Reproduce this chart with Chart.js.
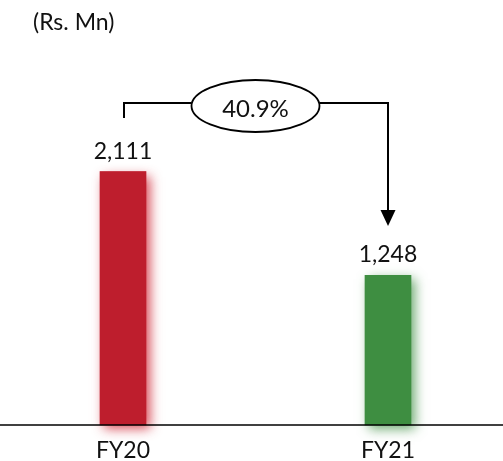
<!DOCTYPE html>
<html>
<head>
<meta charset="utf-8">
<script src="https://cdn.jsdelivr.net/npm/chart.js@4/dist/chart.umd.min.js"></script>
<style>
  html, body { margin: 0; padding: 0; background: #fff; }
  #wrap { position: relative; width: 503px; height: 461px; }
</style>
</head>
<body>
<div id="wrap"><canvas id="c"></canvas></div>
<script>
// Revenue by fiscal year (Rs. Mn)
const categories = ['FY20', 'FY21'];
const values = [2111, 1248];
const valueLabels = ['2,111', '1,248'];
const barColors = ['#BE1E2D', '#3E8E41'];
const glowColors = ['rgba(205,30,45,0.8)', 'rgba(62,142,65,0.75)'];
const unitLabel = '(Rs. Mn)';
const changeLabel = '40.9%';

const FONT = 'Lato, "Open Sans", sans-serif';

// Soft coloured glow behind each bar
const barGlow = {
  id: 'barGlow',
  beforeDatasetDraw(chart, args) {
    const ctx = chart.ctx;
    const meta = args.meta;
    meta.data.forEach((bar, i) => {
      ctx.save();
      ctx.shadowColor = glowColors[i];
      ctx.shadowBlur = 11;
      ctx.shadowOffsetX = 4;
      ctx.shadowOffsetY = 4;
      ctx.fillStyle = barColors[i];
      const w = bar.width;
      ctx.fillRect(bar.x - w / 2, bar.y, w, bar.base - bar.y);
      ctx.restore();
    });
  }
};

// Baseline, value labels, unit caption and the change bracket
const annotations = {
  id: 'annotations',
  afterDatasetsDraw(chart) {
    const ctx = chart.ctx;
    const x = chart.scales.x;
    const y = chart.scales.y;
    const meta = chart.getDatasetMeta(0);

    ctx.save();
    // baseline across the full width
    ctx.strokeStyle = '#000';
    ctx.lineWidth = 1.5;
    ctx.beginPath();
    ctx.moveTo(0, y.getPixelForValue(0));
    ctx.lineTo(chart.width, y.getPixelForValue(0));
    ctx.stroke();

    // value labels above bars
    ctx.fillStyle = '#111';
    ctx.font = '23px ' + FONT;
    ctx.textAlign = 'center';
    ctx.textBaseline = 'alphabetic';
    meta.data.forEach((bar, i) => {
      ctx.fillText(valueLabels[i], bar.x, bar.y - 13);
    });

    // unit caption
    ctx.font = '23px ' + FONT;
    ctx.textAlign = 'left';
    ctx.fillText(unitLabel, 33, 30);

    // change bracket with arrow
    const x0 = x.getPixelForValue(0) + 1;
    const x1 = x.getPixelForValue(1);
    const lineY = 103;
    const ex = (x0 + x1) / 2 - 0.5, ey = 106, rx = 64, ry = 26;
    ctx.strokeStyle = '#000';
    ctx.lineWidth = 2;
    ctx.beginPath();
    ctx.moveTo(x0, 118);
    ctx.lineTo(x0, lineY);
    ctx.lineTo(ex - rx, lineY);
    ctx.moveTo(ex + rx, lineY);
    ctx.lineTo(x1, lineY);
    ctx.lineTo(x1, 212);
    ctx.stroke();
    ctx.fillStyle = '#000';
    ctx.beginPath();
    ctx.moveTo(x1 - 7.5, 210);
    ctx.lineTo(x1 + 7.5, 210);
    ctx.lineTo(x1, 226);
    ctx.closePath();
    ctx.fill();

    ctx.beginPath();
    ctx.ellipse(ex, ey, rx, ry, 0, 0, Math.PI * 2);
    ctx.fillStyle = '#fff';
    ctx.fill();
    ctx.lineWidth = 1.8;
    ctx.stroke();

    ctx.fillStyle = '#111';
    ctx.font = '24px ' + FONT;
    ctx.textAlign = 'center';
    ctx.textBaseline = 'alphabetic';
    ctx.fillText(changeLabel, ex, 116.5);
    ctx.restore();
  }
};

new Chart(document.getElementById('c'), {
  type: 'bar',
  data: {
    labels: categories,
    datasets: [{
      data: values,
      backgroundColor: barColors,
      borderWidth: 0,
      barThickness: 46,
      clip: false
    }]
  },
  options: {
    responsive: true,
    maintainAspectRatio: false,
    animation: false,
    events: [],
    layout: { padding: { top: 65, left: 123, right: 115, bottom: -15 } },
    plugins: { legend: { display: false }, tooltip: { enabled: false }, title: { display: false } },
    scales: {
      x: {
        offset: false,
        grid: { display: false, drawTicks: false },
        border: { display: false },
        ticks: {
          color: '#111',
          font: { family: FONT, size: 23, lineHeight: 1 },
          padding: 14,
          maxRotation: 0,
          autoSkip: false
        }
      },
      y: {
        display: false,
        min: 0,
        max: 3000
      }
    }
  },
  plugins: [barGlow, annotations]
});
</script>
</body>
</html>
